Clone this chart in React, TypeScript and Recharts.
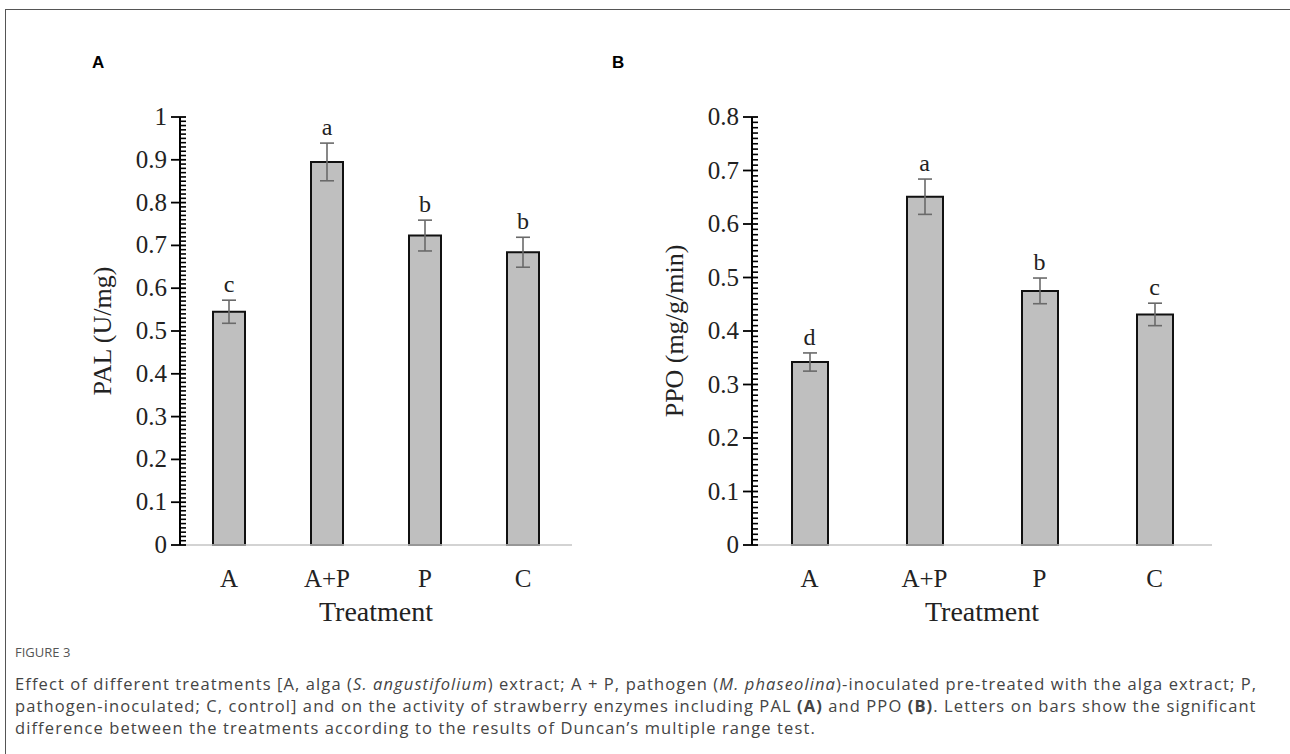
import React from 'react'
import { ComposedChart, Bar, Line, XAxis, YAxis, ErrorBar, LabelList } from 'recharts'

const treatments = ['A', 'A+P', 'P', 'C']

const palMean = [0.545, 0.895, 0.723, 0.684]
const palErr = [0.027, 0.044, 0.036, 0.035]
const palLetters = ['c', 'a', 'b', 'b']

const ppoMean = [0.342, 0.651, 0.475, 0.431]
const ppoErr = [0.017, 0.033, 0.024, 0.021]
const ppoLetters = ['d', 'a', 'b', 'c']

const palMajor = [0, 0.1, 0.2, 0.3, 0.4, 0.5, 0.6, 0.7, 0.8, 0.9, 1]
const palTickLabels = ['0', '0.1', '0.2', '0.3', '0.4', '0.5', '0.6', '0.7', '0.8', '0.9', '1']
const ppoMajor = [0, 0.1, 0.2, 0.3, 0.4, 0.5, 0.6, 0.7, 0.8]
const ppoTickLabels = ['0', '0.1', '0.2', '0.3', '0.4', '0.5', '0.6', '0.7', '0.8']

const serif = '"Liberation Serif", "Times New Roman", serif'
const sans = '"Open Sans", "Noto Sans", sans-serif'

// minor ticks every 0.01 between the majors
function withMinor(max: number) {
  const out: number[] = []
  for (let i = 0; i <= Math.round(max * 100); i++) out.push(i / 100)
  return out
}

function makeRows(mean: number[], err: number[], letters: string[]) {
  return treatments.map((t, i) => ({ name: t, mean: mean[i], err: err[i], top: mean[i] + err[i], letter: letters[i] }))
}

function YTick(props: any) {
  const { x, y, payload, majors, labels } = props
  const idx = majors.findIndex((m: number) => Math.abs(m - payload.value) < 1e-6)
  if (idx < 0) {
    return <line x1={x} x2={x + 6} y1={y} y2={y} stroke="#000" strokeWidth={1.6} />
  }
  return (
    <g>
      <line x1={x - 9} x2={x + 6} y1={y} y2={y} stroke="#000" strokeWidth={1.8} />
      <text x={x - 13} y={y} dy={8} textAnchor="end" fontFamily={serif} fontSize={25} fill="#222">
        {labels[idx]}
      </text>
    </g>
  )
}

function XTick(props: any) {
  const { x, y, payload } = props
  return (
    <text x={x} y={y} dy={42} textAnchor="middle" fontFamily={serif} fontSize={25} fill="#222">
      {payload.value}
    </text>
  )
}

function Panel({ rows, majors, labels, max, title, barSize, width, left, right, titleOffset }: any) {
  return (
    <ComposedChart
      width={width}
      height={640}
      data={rows}
      margin={{ top: 117, right, bottom: 94, left }}
    >
      <XAxis
        dataKey="name"
        height={1}
        tickSize={0}
        tickMargin={0}
        tick={<XTick />}
        tickLine={false}
        axisLine={{ stroke: '#c4c4c4', strokeWidth: 1.5 }}
        label={{
          content: (p: any) => (
            <text x={p.viewBox.x + p.viewBox.width / 2} y={p.viewBox.y + 76} textAnchor="middle" fontFamily={serif} fontSize={28} fill="#222">
              Treatment
            </text>
          ),
        }}
      />
      <YAxis
        type="number"
        domain={[0, max]}
        ticks={withMinor(max)}
        interval={0}
        width={1}
        tickSize={0}
        tickMargin={0}
        tickLine={false}
        tick={<YTick majors={majors} labels={labels} />}
        axisLine={{ stroke: '#000', strokeWidth: 2 }}
        label={{
          content: (p: any) => {
            const cx = p.viewBox.x - titleOffset
            const cy = p.viewBox.y + p.viewBox.height / 2
            return (
              <text x={cx} y={cy} dy={9} transform={`rotate(-90 ${cx} ${cy})`} textAnchor="middle" fontFamily={serif} fontSize={26} fill="#222">
                {title}
              </text>
            )
          },
        }}
      />
      <Bar dataKey="mean" fill="#bfbfbf" stroke="#111" strokeWidth={2} barSize={barSize} isAnimationActive={false}>
        <ErrorBar dataKey="err" width={7} stroke="#6a6a6a" strokeWidth={1.6} direction="y" />
      </Bar>
      <Line dataKey="top" stroke="none" dot={false} activeDot={false} isAnimationActive={false}>
        <LabelList dataKey="letter" position="top" offset={8} style={{ fontFamily: serif, fontSize: 24, fill: '#222' }} />
      </Line>
    </ComposedChart>
  )
}

export default function App() {
  const cap = { fontFamily: sans, fontSize: 16.5, letterSpacing: 1.1, whiteSpace: 'nowrap' as const, color: '#444', lineHeight: '22px' }
  return (
    <div style={{ position: 'absolute', left: 0, top: 0, width: 1290, height: 754, background: '#fff', overflow: 'hidden' }}>
      <div style={{ position: 'absolute', left: 5, top: 9, width: 1400, height: 800, border: '1px solid #555' }} />
      <div style={{ position: 'absolute', left: 92, top: 53, fontFamily: 'Arial, "Liberation Sans", sans-serif', fontWeight: 'bold', fontSize: 17 }}>A</div>
      <div style={{ position: 'absolute', left: 612, top: 53, fontFamily: 'Arial, "Liberation Sans", sans-serif', fontWeight: 'bold', fontSize: 17 }}>B</div>
      <div style={{ position: 'absolute', left: 0, top: 0 }}>
        <Panel rows={makeRows(palMean, palErr, palLetters)} majors={palMajor} labels={palTickLabels} max={1} title="PAL (U/mg)" barSize={32} width={600} left={179} right={28} titleOffset={77} />
      </div>
      <div style={{ position: 'absolute', left: 580, top: 0 }}>
        <Panel rows={makeRows(ppoMean, ppoErr, ppoLetters)} majors={ppoMajor} labels={ppoTickLabels} max={0.8} title="PPO (mg/g/min)" barSize={36} width={660} left={171} right={28} titleOffset={77} />
      </div>
      <div style={{ position: 'absolute', left: 15, top: 643, fontFamily: sans, fontSize: 13, color: '#555' }}>FIGURE 3</div>
      <div style={{ position: 'absolute', left: 15, top: 673, ...cap }}>
        Effect of different treatments [A, alga (<i>S. angustifolium</i>) extract; A + P, pathogen (<i>M. phaseolina</i>)-inoculated pre-treated with the alga extract; P,
      </div>
      <div style={{ position: 'absolute', left: 15, top: 695, ...cap }}>
        pathogen-inoculated; C, control] and on the activity of strawberry enzymes including PAL <b>(A)</b> and PPO <b>(B)</b>. Letters on bars show the significant
      </div>
      <div style={{ position: 'absolute', left: 15, top: 717, ...cap }}>
        difference between the treatments according to the results of Duncan’s multiple range test.
      </div>
    </div>
  )
}
